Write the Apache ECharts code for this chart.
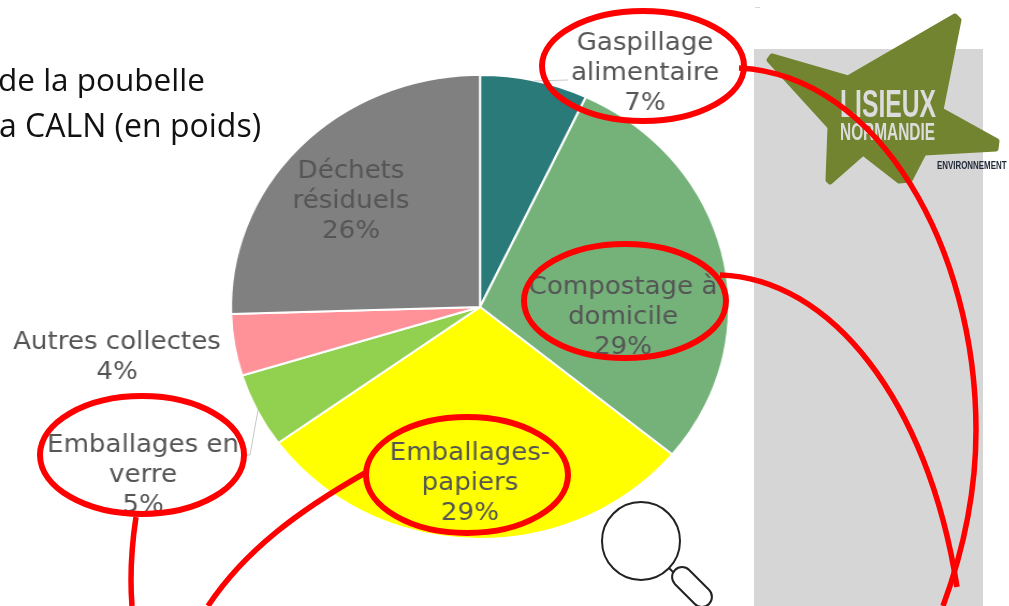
<!DOCTYPE html>
<html>
<head>
<meta charset="utf-8">
<script src="https://cdn.jsdelivr.net/npm/echarts@6/dist/echarts.min.js"></script>
<style>
html,body{margin:0;padding:0;background:#fff;overflow:hidden;}
#wrap{position:relative;width:1009px;height:606px;overflow:hidden;}
/* la photo d'origine est etiree en largeur : le camembert aussi */
#pie{position:absolute;left:0;top:0;width:940px;height:606px;transform-origin:0 0;transform:scaleX(1.0734);filter:blur(0.6px);}
#deco{position:absolute;left:0;top:0;width:1009px;height:606px;}
</style>
</head>
<body>
<div id="wrap">
<div id="pie"></div>
<div id="deco"></div>
</div>
<script>
var categories = ['Gaspillage\nalimentaire', 'Compostage à\ndomicile', 'Emballages-\npapiers', 'Emballages en\nverre', 'Autres collectes', 'Déchets\nrésiduels'];
var values = [7, 29, 29.1, 5.2, 4.3, 25.5];
var colors = ['#2a7a7a', '#74b27a', '#ffff00', '#92d050', '#ff9299', '#808080'];
// position des etiquettes, en pixels ecran
var labelSpots = [[645, 73.5], [623, 318], [470, 484], [143, 476], [117, 358], [351, 202]];
var SX = 1.0734;

var pieData = [];
for (var i = 0; i < categories.length; i++) {
    pieData.push({name: categories[i], value: values[i], itemStyle: {color: colors[i]}});
}

var pieChart = echarts.init(document.getElementById('pie'), null, {renderer: 'canvas'});
pieChart.setOption({
    animation: false,
    series: [{
        type: 'pie',
        center: [480 / SX, 307],
        radius: [0, 232],
        startAngle: 90,
        clockwise: true,
        percentPrecision: 0,
        data: pieData,
        itemStyle: {borderColor: '#fff', borderWidth: 2},
        label: {
            position: 'outside',
            fontFamily: 'DejaVu Sans',
            fontSize: 24.3,
            lineHeight: 30,
            color: '#555555',
            align: 'center',
            overflow: 'none',
            formatter: function (p) {
                return p.name + '\n' + Math.round(p.value) + '%';
            }
        },
        labelLine: {show: false},
        labelLayout: function (p) {
            var spot = labelSpots[p.dataIndex];
            return {x: spot[0] / SX, y: spot[1], align: 'center', verticalAlign: 'middle', width: 300};
        }
    }]
});

var RED = '#ff0000';
function ring(cx, cy, rx, ry) {
    return {type: 'ellipse', shape: {cx: cx, cy: cy, rx: rx, ry: ry}, style: {fill: 'none', stroke: RED, lineWidth: 6}, z: 20};
}
function curve(x1, y1, cx1, cy1, cx2, cy2, x2, y2) {
    return {type: 'bezierCurve', shape: {x1: x1, y1: y1, cpx1: cx1, cpy1: cy1, cpx2: cx2, cpy2: cy2, x2: x2, y2: y2}, style: {fill: 'none', stroke: RED, lineWidth: 5.5}, z: 20};
}
function leader(points) {
    return {type: 'polyline', shape: {points: points}, style: {fill: 'none', stroke: '#c8c8c8', lineWidth: 1}, z: 4};
}

var decoChart = echarts.init(document.getElementById('deco'), null, {renderer: 'canvas'});
decoChart.setOption({
    animation: false,
    graphic: [
        // fond gris
        {type: 'rect', shape: {x: 754, y: 49, width: 229, height: 557}, style: {fill: '#d6d6d6'}, z: 1},
        {type: 'rect', shape: {x: 755, y: 7, width: 5, height: 1}, style: {fill: '#d8d8d8'}, z: 1},
        // logo
        {type: 'polygon', shape: {points: [[955, 16], [959, 20], [941, 110], [997, 141], [996, 149], [924, 153], [910, 180], [899, 181], [863, 153], [830, 182], [828, 180], [830, 127], [769, 60], [772, 56], [848, 78]]},
            style: {fill: '#728430', stroke: '#728430', lineWidth: 5, lineJoin: 'round'}, z: 2},
        {type: 'text', x: 840, y: 86, scaleX: 0.65, scaleY: 1.04, style: {text: 'LISIEUX', font: 'bold 38px "Liberation Sans"', fill: '#dcdcdc'}, z: 3},
        {type: 'text', x: 840, y: 122, scaleX: 0.67, style: {text: 'NORMANDIE', font: 'bold 23px "Liberation Sans"', fill: '#dcdcdc'}, z: 3},
        {type: 'text', x: 937, y: 160, scaleX: 0.72, style: {text: 'ENVIRONNEMENT', font: 'bold 11px "Liberation Sans"', fill: '#222a3a'}, z: 3},
        // titre coupe a gauche
        {type: 'text', x: -2, y: 66.5, style: {text: 'de la poubelle', font: '31.5px "Open Sans"', fill: '#111'}, z: 3},
        {type: 'text', x: -1, y: 111.5, style: {text: 'a CALN (en poids)', font: '32px "Open Sans"', fill: '#111'}, z: 3},
        // loupe
        {type: 'circle', shape: {cx: 641, cy: 541, r: 39}, style: {fill: 'none', stroke: '#222', lineWidth: 2}, z: 3},
        {type: 'line', shape: {x1: 669, y1: 568, x2: 676, y2: 575}, style: {stroke: '#222', lineWidth: 2}, z: 3},
        {type: 'rect', x: 692, y: 587, originX: 0, originY: 0, rotation: -Math.PI / 4, shape: {x: -24, y: -10, width: 48, height: 20, r: 10}, style: {fill: '#fff', stroke: '#222', lineWidth: 2}, z: 3},
        // traits de rappel
        leader([[534, 81], [568, 80]]),
        leader([[258, 410], [250, 455], [243, 455]]),
        // annotations
        ring(643, 66, 101, 55),
        ring(625, 301, 101, 57),
        ring(467, 475, 101, 58),
        ring(142, 455, 102, 59),
        curve(739, 68, 880, 75, 976, 250, 976, 430),
        curve(976, 430, 976, 500, 960, 560, 943, 606),
        curve(720, 275, 830, 278, 928, 400, 957, 587),
        curve(136, 517, 131, 550, 130, 580, 132, 606),
        curve(365, 473, 300, 510, 245, 550, 208, 606)
    ]
});
</script>
</body>
</html>
